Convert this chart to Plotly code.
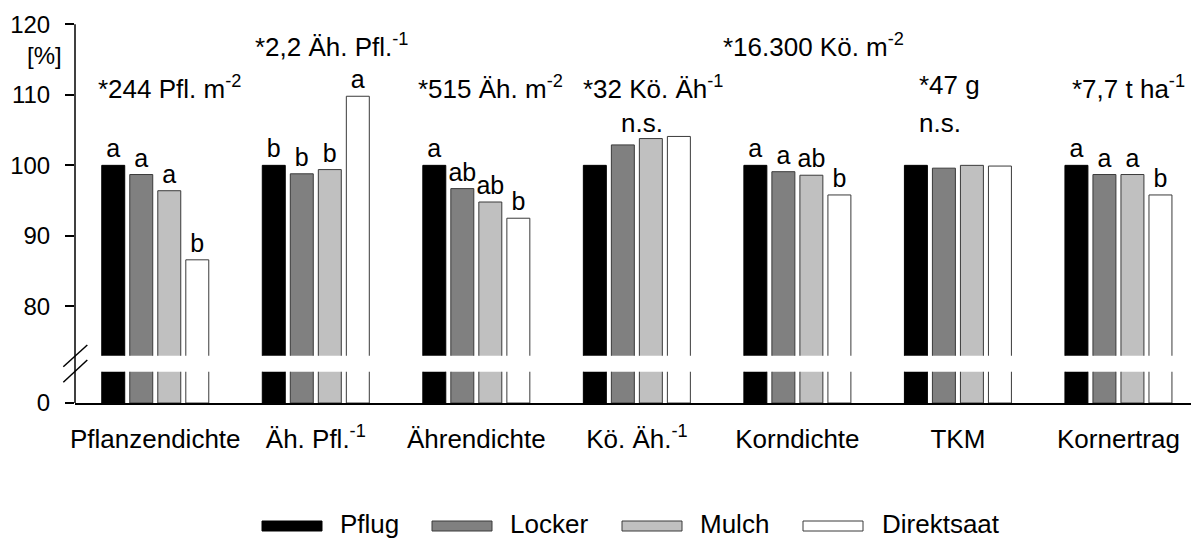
import plotly.graph_objects as go

categories = ["Pflanzendichte", "Äh. Pfl.<sup>-1</sup>", "Ährendichte", "Kö. Äh.<sup>-1</sup>",
              "Korndichte", "TKM", "Kornertrag"]
series_names = ["Pflug", "Locker", "Mulch", "Direktsaat"]
pflug = [100, 100, 100, 100, 100, 100, 100]
locker = [98.7, 98.8, 96.7, 102.9, 99.1, 99.6, 98.7]
mulch = [96.4, 99.4, 94.8, 103.8, 98.6, 100.0, 98.7]
direkt = [86.6, 109.8, 92.5, 104.1, 95.8, 99.9, 95.8]
letters_pflug = ["a", "b", "a", "", "a", "", "a"]
letters_locker = ["a", "b", "ab", "", "a", "", "a"]
letters_mulch = ["a", "b", "ab", "", "ab", "", "a"]
letters_direkt = ["b", "a", "b", "", "b", "", "b"]
ref_labels = ["*244 Pfl. m<sup>-2</sup>", "*2,2 Äh. Pfl.<sup>-1</sup>", "*515 Äh. m<sup>-2</sup>",
              "*32 Kö. Äh<sup>-1</sup>", "*16.300 Kö. m<sup>-2</sup>", "*47 g", "*7,7 t ha<sup>-1</sup>"]
ref_x = [0.09, 1.1, 2.09, 3.1, 4.1, 4.95, 6.06]
ref_y = [111.1, 117.0, 111.1, 111.1, 117.0, 111.4, 111.1]
ns_x = [3.03, 4.89]
ns_y = [106.0, 106.0]

colors = ["#000000", "#808080", "#c0c0c0", "#ffffff"]
line_colors = ["#000000", "#3a3a3a", "#3a3a3a", "#3a3a3a"]
values = [pflug, locker, mulch, direkt]
letters = [letters_pflug, letters_locker, letters_mulch, letters_direkt]

FONT = "Liberation Sans, Arial, sans-serif"

fig = go.Figure()
for i in range(4):
    fig.add_trace(go.Bar(
        x=categories, y=values[i], name=series_names[i], xaxis="x", yaxis="y",
        marker=dict(color=colors[i], line=dict(color=line_colors[i], width=1)),
        text=letters[i], textposition="outside", cliponaxis=False, constraintext="none",
        textfont=dict(family=FONT, size=25, color="black"), showlegend=False, hoverinfo="skip"))
for i in range(4):
    fig.add_trace(go.Bar(
        x=categories, y=values[i], name=series_names[i], xaxis="x2", yaxis="y2",
        marker=dict(color=colors[i], line=dict(color=line_colors[i], width=1)),
        showlegend=False, hoverinfo="skip"))

W, H = 1191, 538
L, R, T, B = 75, 0, 24, 135
pw, ph = W - L - R, H - T - B

def px_x(px):
    return (px - L) / pw

def px_y(py):
    return (H - B - py) / ph

upper_bottom = px_y(355.7)
lower_top = px_y(371.7)

fig.update_layout(
    width=W, height=H, margin=dict(l=L, r=R, t=T, b=B),
    paper_bgcolor="white", plot_bgcolor="white",
    barmode="group", bargap=0.302, bargroupgap=0.18,
    font=dict(family=FONT, size=24, color="black"),
    xaxis=dict(domain=[0, 1], anchor="y", range=[-0.5, 6.452], showticklabels=False,
               showline=False, showgrid=False, zeroline=False, ticks="", matches="x2"),
    xaxis2=dict(domain=[0, 1], anchor="y2", range=[-0.5, 6.452], showline=True, linecolor="black",
                linewidth=1.5, showgrid=False, zeroline=False, ticks="",
                tickfont=dict(family=FONT, size=26, color="black"), ticklabelstandoff=12),
    yaxis=dict(domain=[upper_bottom, 1], anchor="x", range=[73.0, 120.05], tickvals=[80, 90, 100, 110, 120],
               ticks="outside", ticklen=9, tickwidth=1.5, tickcolor="black", showline=False,
               showgrid=False, zeroline=False, tickfont=dict(family=FONT, size=24, color="black"),
               ticklabelstandoff=10),
    yaxis2=dict(domain=[0, lower_top], anchor="x2", range=[0, 10], tickvals=[0],
                ticks="outside", ticklen=9, tickwidth=1.5, tickcolor="black", showline=False,
                showgrid=False, zeroline=False, tickfont=dict(family=FONT, size=24, color="black"),
                ticklabelstandoff=10),
)

shapes = [
    dict(type="line", xref="paper", yref="paper", x0=0, x1=0, y0=0, y1=px_y(24.3),
         line=dict(color="black", width=1.5)),
    dict(type="line", xref="paper", yref="paper", x0=px_x(63.3), y0=px_y(366.7), x1=px_x(87.3), y1=px_y(345),
         line=dict(color="black", width=1.5)),
    dict(type="line", xref="paper", yref="paper", x0=px_x(63.3), y0=px_y(382.3), x1=px_x(87.3), y1=px_y(360),
         line=dict(color="black", width=1.5)),
]

annotations = []
for t, x, y in zip(ref_labels, ref_x, ref_y):
    annotations.append(dict(text=t, x=x, y=y, xref="x", yref="y", showarrow=False,
                            font=dict(family=FONT, size=26, color="black"), xanchor="center", yanchor="middle"))
for x, y in zip(ns_x, ns_y):
    annotations.append(dict(text="n.s.", x=x, y=y, xref="x", yref="y", showarrow=False,
                            font=dict(family=FONT, size=26, color="black"), xanchor="center", yanchor="middle"))
annotations.append(dict(text="[%]", x=px_x(44), y=px_y(56), xref="paper", yref="paper", showarrow=False,
                        font=dict(family=FONT, size=24, color="black"), xanchor="center", yanchor="middle"))

# manual legend
leg_rect_x = [262, 432, 622, 803]
leg_text_x = [338, 508, 698, 880]
for i in range(4):
    shapes.append(dict(type="rect", xref="paper", yref="paper",
                       x0=px_x(leg_rect_x[i]), x1=px_x(leg_rect_x[i] + 60),
                       y0=px_y(531), y1=px_y(521),
                       fillcolor=colors[i], line=dict(color=line_colors[i], width=1)))
    annotations.append(dict(text=series_names[i], x=px_x(leg_text_x[i]), y=px_y(524), xref="paper", yref="paper",
                            showarrow=False, xanchor="left", yanchor="middle",
                            font=dict(family=FONT, size=26, color="black")))

fig.update_layout(shapes=shapes, annotations=annotations)
fig.write_html("out.html")
